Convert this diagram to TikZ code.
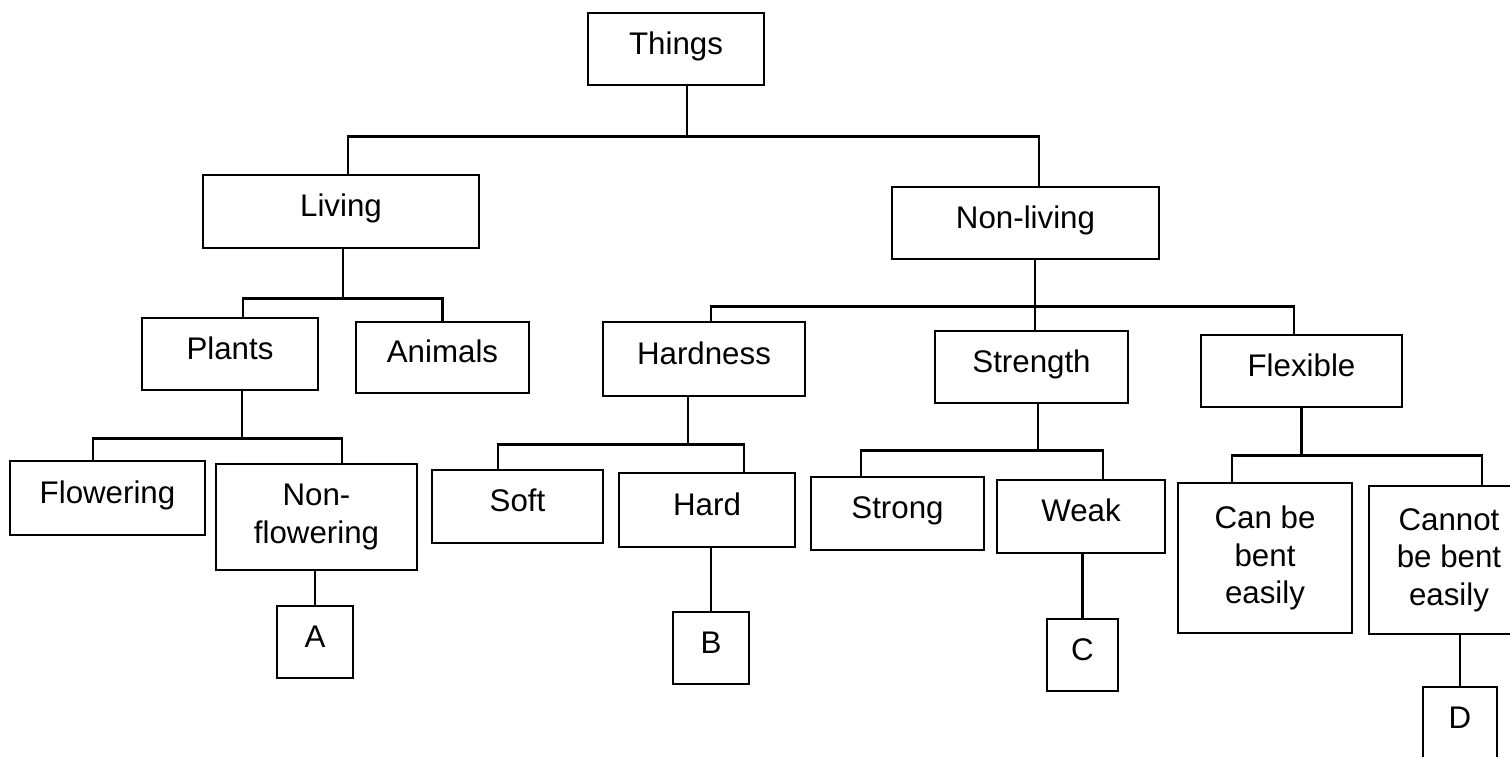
\documentclass[tikz,border=0pt]{standalone}
\usepackage{fontspec}
\setmainfont{Liberation Sans}
\usepackage{tikz}
\usetikzlibrary{positioning}

\tikzset{
  box/.style={draw=cbox,fill=cfbox,text=clbox,line width=0.75pt,shape=rectangle,inner sep=0pt,
    align=center,font=\fontsize{8.9}{10.7}\selectfont},
  oneline/.style={text height=0.75em,text depth=0.45em},
  branch/.style={draw=cbranch,line width=0.75pt}
}

\begin{document}
\begin{tikzpicture}
%
\useasboundingbox (0,0) rectangle (15.1cm,7.57cm);
%
\definecolor{cbox}{rgb}{0.0,0.0,0.0}
\definecolor{cfbox}{rgb}{1.0,1.0,1.0}
\definecolor{clbox}{rgb}{0.0,0.0,0.0}
\definecolor{cbranch}{rgb}{0.0,0.0,0.0}
%
\node[box,oneline,minimum width=1.76cm,minimum height=0.72cm] (things) at (6.76cm,7.08cm) {Things};
%
\node[box,oneline,minimum width=2.76cm,minimum height=0.73cm] (living) at (3.41cm,5.455cm) {Living};
\node[box,oneline,minimum width=2.67cm,minimum height=0.72cm] (nonliving) at (10.255cm,5.34cm) {Non-living};
%
\node[box,oneline,minimum width=1.76cm,minimum height=0.72cm] (plants) at (2.30cm,4.03cm) {Plants};
\node[box,oneline,minimum width=1.73cm,minimum height=0.71cm] (animals) at (4.425cm,3.995cm) {Animals};
\node[box,oneline,minimum width=2.02cm,minimum height=0.74cm] (hardness) at (7.04cm,3.98cm) {Hardness};
\node[box,oneline,minimum width=1.93cm,minimum height=0.72cm] (strength) at (10.315cm,3.90cm) {Strength};
\node[box,oneline,minimum width=2.01cm,minimum height=0.72cm] (flexible) at (13.015cm,3.86cm) {Flexible};
%
\node[box,oneline,minimum width=1.95cm,minimum height=0.74cm] (flowering) at (1.075cm,2.59cm) {Flowering};
\node[box,minimum width=2.01cm,minimum height=1.06cm] (nonflowering) at (3.165cm,2.40cm) {Non-\\flowering};
\node[box,oneline,minimum width=1.71cm,minimum height=0.73cm] (soft) at (5.175cm,2.505cm) {Soft};
\node[box,oneline,minimum width=1.76cm,minimum height=0.74cm] (hard) at (7.07cm,2.47cm) {Hard};
\node[box,oneline,minimum width=1.73cm,minimum height=0.73cm] (strong) at (8.975cm,2.435cm) {Strong};
\node[box,oneline,minimum width=1.68cm,minimum height=0.73cm] (weak) at (10.81cm,2.405cm) {Weak};
\node[box,minimum width=1.74cm,minimum height=1.50cm] (canbend) at (12.65cm,1.99cm) {Can be\\bent\\easily};
\node[box,minimum width=1.60cm,minimum height=1.48cm] (cannotbend) at (14.49cm,1.97cm) {Cannot\\be bent\\easily};
%
\node[box,oneline,minimum width=0.76cm,minimum height=0.72cm] (a) at (3.15cm,1.15cm) {A};
\node[box,oneline,minimum width=0.76cm,minimum height=0.72cm] (b) at (7.11cm,1.09cm) {B};
\node[box,oneline,minimum width=0.71cm,minimum height=0.72cm] (c) at (10.825cm,1.02cm) {C};
\node[box,oneline,minimum width=0.74cm,minimum height=0.72cm] (d) at (14.60cm,0.34cm) {D};
%
\draw[branch] ([xshift=0.11cm]things.south) -- ++(0,-0.50cm) -| ([xshift=0.07cm]living.north);
\draw[branch] ([xshift=0.11cm]things.south) -- ++(0,-0.50cm) -| ([xshift=0.135cm]nonliving.north);
%
\draw[branch] ([xshift=0.02cm]living.south) -- ++(0,-0.49cm) -| ([xshift=0.13cm]plants.north);
\draw[branch] ([xshift=0.02cm]living.south) -- ++(0,-0.49cm) -| (animals.north);
%
\draw[branch] ([xshift=0.095cm]nonliving.south) -- ++(0,-0.46cm) -| ([xshift=0.07cm]hardness.north);
\draw[branch] ([xshift=0.095cm]nonliving.south) -- ++(0,-0.46cm) -| ([xshift=0.035cm]strength.north);
\draw[branch] ([xshift=0.095cm]nonliving.south) -- ++(0,-0.46cm) -| ([xshift=-0.075cm]flexible.north);
%
\draw[branch] ([xshift=0.12cm]plants.south) -- ++(0,-0.47cm) -| ([xshift=-0.145cm]flowering.north);
\draw[branch] ([xshift=0.12cm]plants.south) -- ++(0,-0.47cm) -| ([xshift=0.255cm]nonflowering.north);
%
\draw[branch] ([xshift=-0.16cm]hardness.south) -- ++(0,-0.47cm) -| ([xshift=-0.195cm]soft.north);
\draw[branch] ([xshift=-0.16cm]hardness.south) -- ++(0,-0.47cm) -| ([xshift=0.37cm]hard.north);
%
\draw[branch] ([xshift=0.065cm]strength.south) -- ++(0,-0.46cm) -| ([xshift=-0.365cm]strong.north);
\draw[branch] ([xshift=0.065cm]strength.south) -- ++(0,-0.46cm) -| ([xshift=0.22cm]weak.north);
%
\draw[branch] (flexible.south) -- ++(0,-0.47cm) -| ([xshift=-0.33cm]canbend.north);
\draw[branch] (flexible.south) -- ++(0,-0.47cm) -| ([xshift=0.33cm]cannotbend.north);
%
\draw[branch] (a.north |- nonflowering.south) -- (a.north);
\draw[branch] (b.north |- hard.south) -- (b.north);
\draw[branch] (c.north |- weak.south) -- (c.north);
\draw[branch] (d.north |- cannotbend.south) -- (d.north);
%
\end{tikzpicture}
\end{document}
